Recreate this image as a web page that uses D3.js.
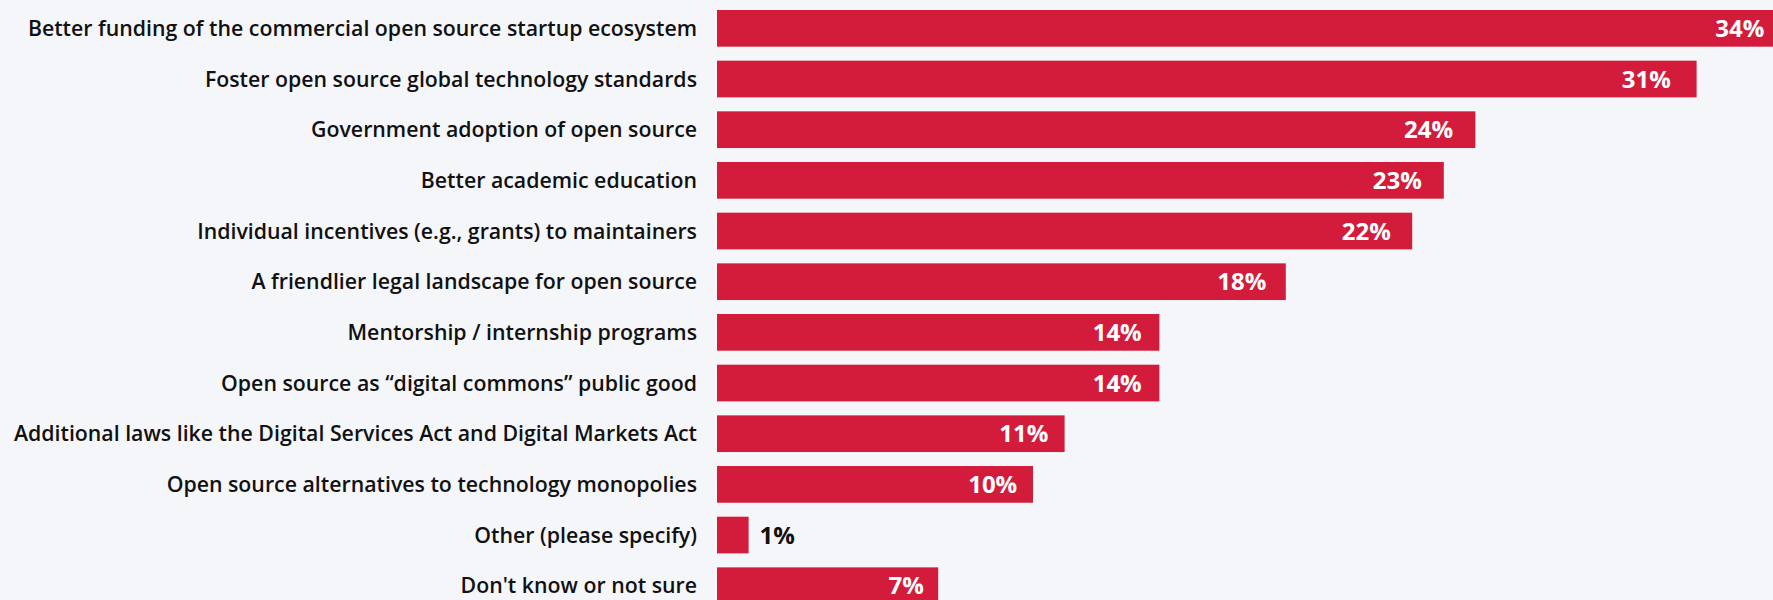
<!DOCTYPE html>
<html>
<head>
<meta charset="utf-8">
<script src="https://cdn.jsdelivr.net/npm/d3@7"></script>
<style>
  html, body { margin: 0; padding: 0; background: #f5f6fa; }
  svg { display: block; }
</style>
</head>
<body>
<div id="chart"></div>
<script>
const categories = [
  "Better funding of the commercial open source startup ecosystem",
  "Foster open source global technology standards",
  "Government adoption of open source",
  "Better academic education",
  "Individual incentives (e.g., grants) to maintainers",
  "A friendlier legal landscape for open source",
  "Mentorship / internship programs",
  "Open source as \u201cdigital commons\u201d public good",
  "Additional laws like the Digital Services Act and Digital Markets Act",
  "Open source alternatives to technology monopolies",
  "Other (please specify)",
  "Don't know or not sure"
];
const values = [34, 31, 24, 23, 22, 18, 14, 14, 11, 10, 1, 7];

const width = 1773, height = 600;
const barLeft = 717;
const pxPerPct = 31.6;
const step = 50.67;
const padInner = 0.276;

const svg = d3.select("#chart").append("svg")
  .attr("width", width).attr("height", height);

svg.append("rect").attr("width", width).attr("height", height).attr("fill", "#f5f6fa");

const x = d3.scaleLinear()
  .domain([0, 34])
  .range([barLeft, barLeft + 34 * pxPerPct]);

const y = d3.scaleBand()
  .domain(categories)
  .range([10, 10 + categories.length * step - step * padInner])
  .paddingInner(padInner)
  .paddingOuter(0);

const rows = svg.append("g").selectAll("g")
  .data(categories.map((c, i) => ({ c, v: values[i] })))
  .join("g");

rows.append("rect")
  .attr("x", x(0))
  .attr("y", d => y(d.c))
  .attr("width", d => x(d.v) - x(0))
  .attr("height", y.bandwidth())
  .attr("fill", "#d31c3b");

rows.append("text")
  .attr("x", x(0) - 20)
  .attr("y", d => y(d.c) + y.bandwidth() / 2)
  .attr("dy", "0.36em")
  .attr("text-anchor", "end")
  .attr("font-family", "'Open Sans', sans-serif")
  .attr("font-size", 21.3)
  .attr("font-weight", 600)
  .attr("fill", "#111")
  .text(d => d.c);

// value labels: inside the bar end when it fits, otherwise just past it
rows.append("text")
  .attr("x", d => {
    const len = x(d.v) - x(0);
    return len > 60 ? x(d.v) - 11 - 0.015 * len : x(d.v) + 11;
  })
  .attr("y", d => y(d.c) + y.bandwidth() / 2)
  .attr("dy", "0.36em")
  .attr("text-anchor", d => (x(d.v) - x(0) > 60 ? "end" : "start"))
  .attr("font-family", "'Open Sans', sans-serif")
  .attr("font-size", 24)
  .attr("font-weight", 700)
  .attr("fill", d => (x(d.v) - x(0) > 60 ? "#fff" : "#111"))
  .text(d => d.v + "%");
</script>
</body>
</html>
